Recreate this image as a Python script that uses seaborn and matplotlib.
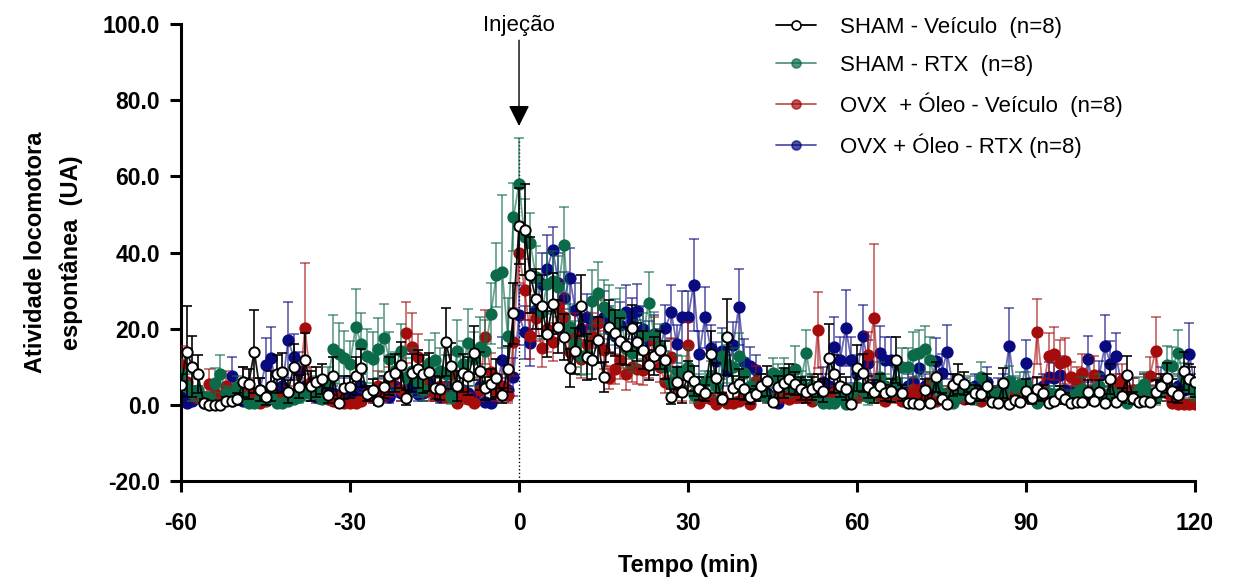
import numpy as np
import matplotlib
matplotlib.use("Agg")
import matplotlib.pyplot as plt
from matplotlib.lines import Line2D
import seaborn as sns

# Tempo (min): -60 .. 120, one point per minute
tempo = list(range(-60, 121))

# SHAM - Veículo
sham_veic = [
    5.2, 14, 10, 8, 0.5, 0, 0, 0, 1, 1,
    1.5, 6, 5.5, 14, 4, 2, 5, 8, 8.5, 3.5,
    10, 4.8, 11.8, 5, 6, 6.8, 2.5, 7.6, 0.5, 4.5,
    4.7, 7.6, 9.7, 2.9, 3.9, 1, 4.7, 7.6, 8.4, 10.5,
    1.8, 8.4, 9.4, 8.1, 8.7, 4.5, 4.2, 16.5, 10.2, 5,
    8.4, 7.6, 13.6, 8.9, 4.3, 5.5, 7, 2.5, 9.5, 24,
    47, 46, 34, 27.8, 26, 18.6, 26.5, 20.5, 17.8, 9.7,
    14.2, 26, 12.6, 11.8, 17, 7.3, 20.5, 18.9, 16.8, 15.5,
    20.2, 16.5, 14.4, 10.5, 12.8, 14.4, 11.8, 2.1, 6, 3.4,
    7.6, 6.3, 4.2, 3.1, 13.4, 7.1, 1.6, 17.8, 4.5, 5.5,
    4.2, 2.1, 2.9, 5, 6.3, 0.8, 4.7, 5.8, 6.8, 5.5,
    4.2, 3.4, 4.2, 5, 3.7, 12.3, 8.1, 5, 4.2, 0.3,
    9.7, 8.4, 4.7, 3.4, 5, 3.1, 3.7, 11.8, 3.1, 0.5,
    0.5, 0.3, 3.9, 0.5, 7.3, 1.6, 0.3, 5.2, 6.8, 5.5,
    1.8, 3.1, 2.9, 5, 0.8, 0.5, 5.8, 0.3, 1.3, 0.8,
    3.7, 1.8, 4.2, 3.1, 0.5, 1, 2.9, 1.6, 0.5, 0.8,
    0.8, 3.4, 1, 3.4, 0.5, 6.8, 0.8, 2.4, 7.9, 1.8,
    0.8, 1, 0.8, 3.4, 5, 7.1, 3.7, 2.6, 8.9, 6.8,
    6,
]
sham_veic_sem = [
    3, 12, 8, 5, 1, 0.5, 0.5, 0.5, 1, 1,
    1.5, 4, 4, 11, 3, 2, 4, 5, 5, 3,
    6, 3, 7, 4, 4, 4, 2, 5, 1, 3,
    3, 5, 5, 2, 3, 1, 3, 5, 5, 6,
    2, 5, 5, 5, 5, 3, 3, 9, 6, 4,
    5, 5, 7, 5, 3, 4, 5, 2, 6, 8,
    10, 12, 10, 8, 8, 6, 8, 7, 6, 5,
    6, 8, 6, 5, 6, 4, 7, 6, 6, 5,
    6, 5, 5, 4, 5, 5, 5, 2, 4, 3,
    4, 4, 3, 2, 6, 4, 1.5, 10, 3, 4,
    3, 2, 2, 3, 4, 1, 3, 4, 4, 3,
    3, 3, 3, 3, 3, 9, 5, 3, 3, 0.5,
    6, 5, 3, 3, 3, 2, 3, 6, 2, 0.5,
    0.5, 0.5, 3, 0.5, 4, 1.5, 0.5, 3, 4, 3,
    1.5, 2, 2, 3, 1, 0.5, 4, 0.5, 1, 1,
    3, 1.5, 3, 2, 0.5, 1, 2, 1.5, 0.5, 1,
    1, 3, 1, 3, 0.5, 4, 1, 2, 5, 1.5,
    1, 1, 1, 3, 3, 4, 3, 2, 5, 4,
    4,
]

# SHAM - RTX
sham_rtx = [
    8.1, 5, 3, 3.9, 2, 1.8, 5.8, 8.1, 3, 2.6,
    4.7, 2, 0.5, 0.5, 1.5, 1.3, 2, 0.5, 0.5, 1,
    1.5, 2, 3, 2.9, 4.7, 1.6, 6, 14.7, 13.4, 12.3,
    10.8, 20.5, 16, 12.8, 12, 14.7, 17.6, 12, 9, 14.2,
    7.3, 9, 6, 4, 11, 11.8, 9, 8, 2.1, 14.2,
    10.8, 16.3, 12, 15.2, 14.2, 23.9, 34.1, 35, 18.1, 49.3,
    58, 44, 42.5, 33.6, 24.4, 31.8, 32.5, 31, 42, 20.5,
    16, 12.8, 13.1, 27.3, 29.4, 25.7, 24.4, 21.8, 23.6, 14.7,
    13.6, 16.3, 18, 26.8, 18.4, 15.2, 10, 6, 9, 8.9,
    10, 2.6, 5, 6, 7.6, 5, 12.8, 10.8, 10, 12.8,
    8.4, 5, 4, 3, 2.4, 8.4, 6.8, 8.4, 5, 9.4,
    6, 13.6, 5, 2.1, 0.5, 0.5, 0.5, 1.8, 0.3, 3.4,
    4.7, 4, 2, 3.1, 7.3, 5, 4, 6, 10, 10,
    13.1, 13.6, 14.7, 11.8, 5.2, 3, 2, 0.5, 2.5, 3,
    4.5, 2, 7.3, 4, 2, 3, 3.1, 6.3, 4.7, 5.5,
    5.5, 3, 0.5, 2, 3, 2.9, 3, 1.6, 2, 3,
    4.2, 2, 3.1, 5, 2, 3, 2.5, 1.5, 0.5, 2,
    4.2, 5.5, 3, 2, 4, 10.5, 10.2, 13.6, 7, 4.7,
    3,
]
sham_rtx_sem = [
    4, 3, 2, 3, 1.5, 1.5, 4, 5, 2, 2,
    3, 1.5, 0.5, 0.5, 1, 1, 1.5, 0.5, 0.5, 1,
    1, 1.5, 2, 2, 3, 1.5, 4, 9, 8, 7,
    6, 10, 8, 7, 7, 8, 9, 7, 5, 7,
    5, 6, 4, 3, 6, 7, 6, 5, 2, 8,
    6, 9, 7, 8, 8, 8, 8.5, 20, 10, 9,
    12, 10, 8, 8, 7, 8, 8, 8, 10, 6,
    6, 5, 5, 8, 8, 7, 7, 6, 7, 5,
    5, 6, 6, 8, 6, 6, 4, 3, 4, 4,
    5, 2, 3, 3, 4, 3, 6, 5, 5, 6,
    4, 3, 3, 2, 2, 4, 4, 4, 3, 6,
    3, 6, 3, 2, 0.5, 0.5, 0.5, 1.5, 0.5, 2,
    3, 3, 2, 2, 4, 3, 3, 4, 5, 5,
    6, 6, 6, 6, 3, 2, 2, 0.5, 2, 2,
    3, 2, 4, 3, 2, 2, 2, 4, 3, 3,
    3, 2, 0.5, 2, 2, 2, 2, 1.5, 2, 2,
    3, 2, 2, 3, 2, 2, 2, 1.5, 0.5, 2,
    3, 3, 2, 2, 3, 5, 5, 6, 4, 3,
    2,
]

# OVX + Óleo - Veículo
ovx_veic = [
    10.5, 6, 3, 2, 1, 5.5, 3, 2, 5, 1,
    2, 6, 4, 1.5, 0.5, 1, 3, 2, 1, 3,
    2, 4, 20.2, 6, 3, 2, 1.5, 1, 2, 0.5,
    0.5, 0.5, 1, 3, 2, 5, 3, 6, 8, 4,
    18.9, 15.2, 12.6, 6, 4, 3, 5, 2, 8, 0.5,
    3, 1.6, 0.5, 4, 17.8, 8.7, 3, 5, 2.6, 16.5,
    40, 30.2, 18, 22.8, 15, 20, 16.5, 25.7, 23, 14,
    18, 12, 16, 18, 21.5, 14.4, 7.1, 9.4, 11.8, 8,
    10, 9.4, 9.2, 12, 17, 10, 6, 12.6, 5, 4,
    15.7, 3, 0.5, 2, 1.5, 0.3, 2, 0.5, 0.5, 1,
    2, 0.3, 6.3, 3, 2, 1, 2, 3, 1.5, 2,
    2, 3, 1, 19.7, 2, 1, 3, 2, 1.5, 3,
    2, 3, 13.1, 22.8, 2, 1, 3, 2, 1, 2,
    4.2, 3.1, 2, 5.5, 1, 2, 3, 1, 2, 1.5,
    2, 3, 1, 2, 3, 1.5, 2, 1, 3, 2,
    2, 3, 19.2, 4, 12.8, 13.4, 11, 11.5, 7.3, 6,
    8.4, 3, 7.9, 4, 2, 3, 5, 6.6, 3, 4,
    3, 5, 7.6, 14.2, 4, 3, 0.5, 0.3, 0.3, 0.3,
    0.3,
]
ovx_veic_sem = [
    5, 4, 2, 1.5, 1, 4, 2, 1.5, 4, 1,
    1.5, 4, 3, 1, 0.5, 1, 2, 1.5, 1, 2,
    1.5, 3, 17, 4, 2, 1.5, 1, 1, 1.5, 0.5,
    0.5, 0.5, 1, 2, 1.5, 4, 2, 4, 5, 3,
    8, 9, 6, 4, 3, 2, 3, 1.5, 5, 0.5,
    2, 1.5, 0.5, 3, 7, 5, 2, 3, 2, 9,
    8, 8, 6, 6, 5, 6, 5, 7, 6, 5,
    6, 5, 5, 6, 6, 5, 3, 4, 5, 4,
    4, 4, 4, 5, 6, 4, 3, 5, 3, 3,
    6, 2, 0.5, 1.5, 1, 0.3, 1.5, 0.5, 0.5, 1,
    1.5, 0.3, 4, 2, 1.5, 1, 1.5, 2, 1, 1.5,
    1.5, 2, 1, 10, 1.5, 1, 2, 1.5, 1, 2,
    1.5, 2, 6, 19.5, 1.5, 1, 2, 1.5, 1, 1.5,
    3, 2, 1.5, 3, 1, 1.5, 2, 1, 1.5, 1,
    1.5, 2, 1, 1.5, 2, 1, 1.5, 1, 2, 1.5,
    1.5, 2, 8.5, 3, 6, 7, 6, 6, 4, 4,
    5, 2, 5, 3, 1.5, 2, 3, 4, 2, 3,
    2, 3, 5, 9, 3, 2, 0.5, 0.3, 0.3, 0.3,
    0.3,
]

# OVX + Óleo - RTX
ovx_rtx = [
    2, 0.5, 1, 3, 0.5, 0.5, 2, 1, 3, 7.6,
    2, 1, 3, 2, 4, 10.5, 12.4, 3, 5, 17,
    12.6, 9, 5, 3, 2, 4, 2, 3, 1, 4,
    3, 2, 5, 3, 2, 4, 3, 2, 5, 3,
    4, 5, 2.9, 3, 6, 4, 2, 5, 3, 2,
    4, 3, 2, 5, 0.8, 0.5, 4, 11.8, 4, 7.3,
    23.6, 19, 16.3, 25, 31.8, 35.7, 40.7, 32, 28, 33.3,
    25, 20, 23, 21, 22, 23, 20, 18, 21, 24.4,
    22, 24.7, 20, 17, 18.6, 15, 20.2, 24.4, 16, 23,
    23, 31.5, 13.4, 23, 15, 11.5, 14.2, 9, 15.7, 25.7,
    11.3, 10.2, 9.2, 5, 3, 2, 0.5, 4, 3, 5,
    4, 3, 5, 2, 6, 5, 15.2, 11.8, 20.2, 11.8,
    8, 18.1, 11, 5, 13.6, 11.8, 11.8, 6, 4, 5,
    6, 9.7, 5, 4, 11.5, 8.4, 13.9, 5, 3, 4,
    3, 5, 2, 6, 3, 4, 5, 15.5, 4, 3,
    11, 4, 3, 5, 7.3, 7, 7.9, 4, 3, 5,
    3, 12, 4, 7.6, 15.5, 10.8, 12.8, 5, 3, 4,
    3, 5, 2, 3, 6, 4, 3, 5, 4, 13.4,
    5,
]
ovx_rtx_sem = [
    1.5, 0.5, 1, 2, 0.5, 0.5, 1.5, 1, 2, 5,
    1.5, 1, 2, 1.5, 3, 7, 8, 2, 3, 10,
    6, 5, 3, 2, 1.5, 3, 1.5, 2, 1, 3,
    2, 1.5, 3, 2, 1.5, 3, 2, 1.5, 3, 2,
    3, 3, 2, 2, 4, 3, 1.5, 3, 2, 1.5,
    3, 2, 1.5, 3, 0.8, 0.5, 3, 6, 3, 5,
    8, 7, 6, 7, 8, 9, 6, 8, 7, 8,
    7, 6, 6, 6, 6, 7, 6, 5, 6, 7,
    6, 7, 6, 5, 5, 5, 6, 7, 5, 7,
    7, 12, 6, 8, 6, 5, 6, 4, 6, 10,
    6, 5, 4, 3, 2, 1.5, 0.5, 3, 2, 3,
    3, 2, 3, 1.5, 4, 3, 8, 6, 10, 6,
    5, 8, 6, 3, 7, 6, 6, 4, 3, 3,
    4, 5, 3, 3, 6, 5, 7, 3, 2, 3,
    2, 3, 1.5, 4, 2, 3, 3, 10, 3, 2,
    6, 3, 2, 3, 4, 4, 5, 3, 2, 3,
    2, 6, 3, 4, 8, 6, 6, 3, 2, 3,
    2, 3, 1.5, 2, 4, 3, 2, 3, 3, 8,
    3,
]

labels = ["SHAM - Veículo  (n=8)", "SHAM - RTX  (n=8)",
          "OVX  + Óleo - Veículo  (n=8)", "OVX + Óleo - RTX (n=8)"]

sns.set_style("ticks")
plt.rcParams["font.family"] = ["Liberation Sans", "DejaVu Sans"]
plt.rcParams["axes.unicode_minus"] = False
for key in ["text.color", "axes.labelcolor", "xtick.color", "ytick.color", "axes.edgecolor"]:
    plt.rcParams[key] = "black"

fig = plt.figure(figsize=(12.35, 5.85), dpi=100)
ax = fig.add_axes([0.1466, 0.1778, 0.821, 0.781])

# (mean, sem, line colour, marker face, marker edge, zorder, line alpha)
series = [
    (ovx_rtx, ovx_rtx_sem, "#0a0a80", "#0a0a80", "#0a0a80", 2, 0.6),
    (ovx_veic, ovx_veic_sem, "#a50d0d", "#a50d0d", "#a50d0d", 3, 0.6),
    (sham_rtx, sham_rtx_sem, "#0b6a48", "#0b6a48", "#0b6a48", 4, 0.6),
    (sham_veic, sham_veic_sem, "black", "white", "black", 5, 0.9),
]

# vertical dotted line at injection time
ax.plot([0, 0], [-20, 70], linestyle=":", color="black", lw=1, zorder=1)

for mean, sem, col, face, edge, z, a in series:
    mean = np.array(mean)
    sem = np.array(sem)
    lower = np.minimum(sem, mean)
    ax.errorbar(tempo, mean, yerr=[lower, sem], fmt="none", ecolor=col,
                elinewidth=1.3, capsize=3.5, capthick=1.3, alpha=a, zorder=z)
    sns.lineplot(x=tempo, y=mean, color=col, lw=1.3, alpha=a, ax=ax, zorder=z)
    sns.scatterplot(x=tempo, y=mean, color=face, edgecolor=edge, linewidth=1.4,
                    s=55, ax=ax, zorder=z + 0.5)

ax.set_xlim(-60, 120)
ax.set_ylim(-20, 100)
ax.set_xticks([-60, -30, 0, 30, 60, 90, 120])
ax.set_yticks([-20, 0, 20, 40, 60, 80, 100])
ax.set_yticklabels([f"{v:.1f}" for v in [-20, 0, 20, 40, 60, 80, 100]])
for lab in ax.get_xticklabels() + ax.get_yticklabels():
    lab.set_fontweight("bold")
    lab.set_fontsize(16.5)
ax.tick_params(axis="both", direction="out", length=8, width=2.2)
ax.tick_params(axis="x", pad=14)
ax.tick_params(axis="y", pad=7)
sns.despine(ax=ax)
ax.spines["left"].set_linewidth(2.2)
ax.spines["bottom"].set_linewidth(2.2)
ax.grid(False)

ax.set_xlabel("Tempo (min)", fontsize=17, fontweight="bold", labelpad=14)
ax.set_ylabel("Atividade locomotora\nespontânea  (UA)", fontsize=17,
              fontweight="bold", labelpad=14, linespacing=1.7)

# injection marker
ax.annotate("", xy=(0, 72.5), xytext=(0, 96.5),
            arrowprops=dict(arrowstyle="-|>", mutation_scale=32, color="black", lw=1),
            annotation_clip=False, zorder=6)
ax.text(0, 99.7, "Injeção", ha="center", va="center", fontsize=16)

handles = []
for mean, sem, col, face, edge, z, a in series[::-1]:
    handles.append(Line2D([0], [0], color=col, lw=1.3, alpha=1 if face == "white" else 0.7,
                          marker="o", markersize=6.5, markerfacecolor=face,
                          markeredgecolor=edge, markeredgewidth=1.2))
fig.legend(handles, labels, loc="upper left", bbox_to_anchor=(0.612, 1.005),
           frameon=False, fontsize=16, handlelength=1.8, handletextpad=1.1,
           labelspacing=0.75)

fig.savefig("out.png", dpi=100)
